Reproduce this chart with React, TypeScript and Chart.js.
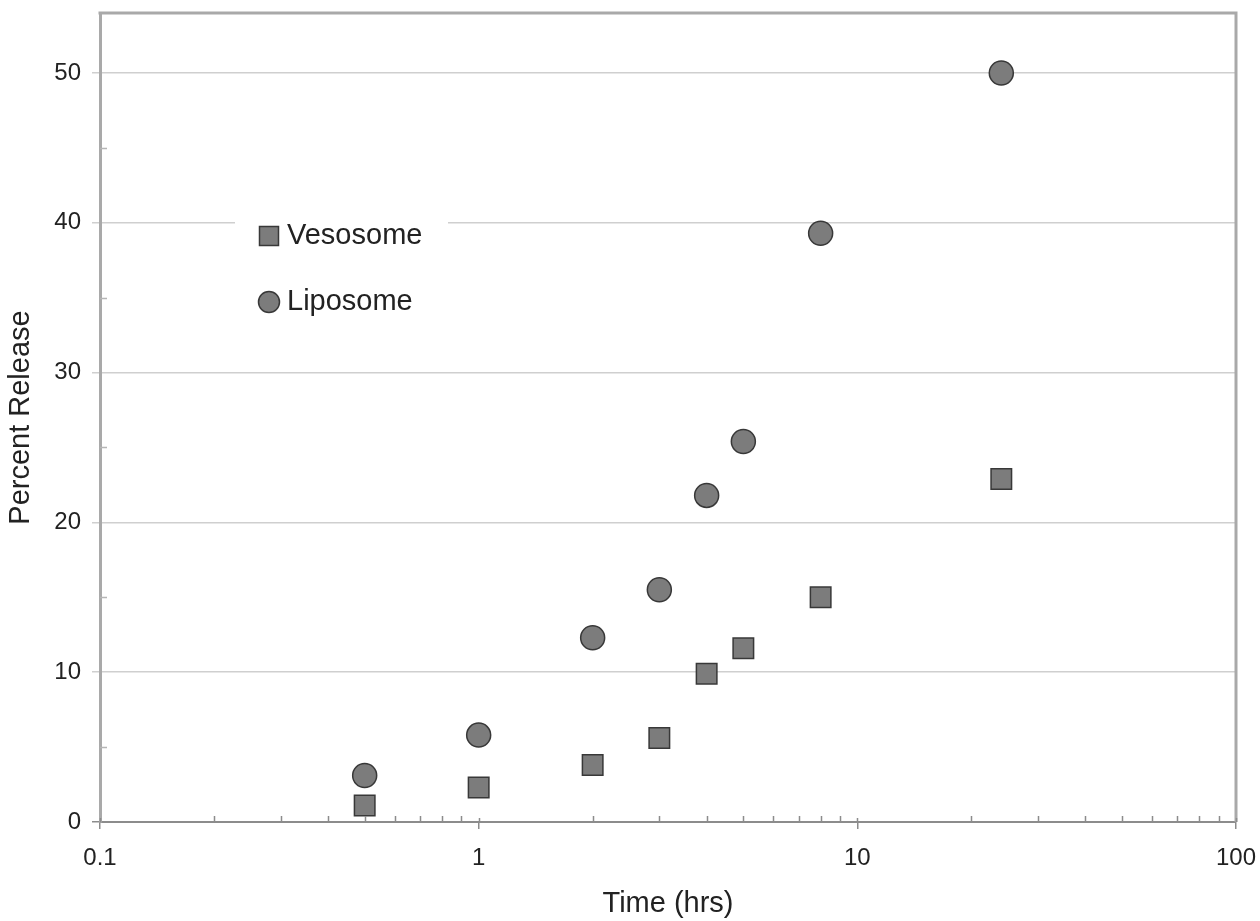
import React, { useEffect, useRef } from "react";
import { Chart, registerables } from "chart.js";

Chart.register(...registerables);

// ---- data ----
const timeHours = [0.5, 1, 2, 3, 4, 5, 8, 24];
const vesosomeRelease = [1.1, 2.3, 3.8, 5.6, 9.9, 11.6, 15.0, 22.9];
const liposomeRelease = [3.1, 5.8, 12.3, 15.5, 21.8, 25.4, 39.3, 50.0];
const seriesNames = ["Vesosome", "Liposome"];
const xMajorTicks = [0.1, 1, 10, 100];
const xMinorMultipliers = [2, 3, 4, 5, 6, 7, 8, 9];
const xDecades = [0.1, 1, 10];
const yMinorTicks = [5, 15, 25, 35, 45];
const xTitle = "Time (hrs)";
const yTitle = "Percent Release";

const FONT = "'Liberation Sans', Arial, Helvetica, sans-serif";
const POINT_FILL = "#7c7c7c";
const POINT_BORDER = "#383838";

const zeroPad = () => ({ left: 0, top: 0, right: 0, bottom: 0 });

const frameAndTicks = {
  id: "frameAndTicks",
  afterDraw(chart: any) {
    const { ctx, chartArea: a, scales } = chart;
    const xs = scales.x;
    const ys = scales.y;
    ctx.save();
    // top & right frame
    ctx.strokeStyle = "#a9a9a9";
    ctx.lineWidth = 3;
    ctx.beginPath();
    ctx.moveTo(a.left - 1.5, a.top);
    ctx.lineTo(a.right, a.top);
    ctx.lineTo(a.right, a.bottom);
    ctx.stroke();
    // x minor ticks (inward)
    ctx.strokeStyle = "#8c8c8c";
    ctx.lineWidth = 1.5;
    ctx.beginPath();
    xDecades.forEach((d) => {
      xMinorMultipliers.forEach((m) => {
        const px = Math.round(xs.getPixelForValue(d * m)) + 0.5;
        ctx.moveTo(px, a.bottom);
        ctx.lineTo(px, a.bottom - 6);
      });
    });
    // x major ticks inward part
    xMajorTicks.forEach((v) => {
      const px = Math.round(xs.getPixelForValue(v)) + 0.5;
      ctx.moveTo(px, a.bottom);
      ctx.lineTo(px, a.bottom - 4);
    });
    ctx.stroke();
    // y minor ticks (inward)
    ctx.strokeStyle = "#b5b5b5";
    ctx.beginPath();
    yMinorTicks.forEach((v) => {
      const py = Math.round(ys.getPixelForValue(v)) + 0.5;
      ctx.moveTo(a.left, py);
      ctx.lineTo(a.left + 7, py);
    });
    ctx.stroke();
    ctx.restore();
  },
};

const insetLegend = {
  id: "insetLegend",
  afterDatasetsDraw(chart: any) {
    const { ctx } = chart;
    ctx.save();
    ctx.fillStyle = "#ffffff";
    ctx.fillRect(235, 198, 213, 134);
    const rows = [236, 302];
    chart.data.datasets.forEach((ds: any, i: number) => {
      const cy = rows[i];
      const cx = 269;
      ctx.fillStyle = ds.backgroundColor;
      ctx.strokeStyle = ds.borderColor;
      ctx.lineWidth = 1.5;
      ctx.beginPath();
      if (ds.pointStyle === "rect") {
        ctx.rect(cx - 9.5, cy - 9.5, 19, 19);
      } else {
        ctx.arc(cx, cy, 10.5, 0, Math.PI * 2);
      }
      ctx.fill();
      ctx.stroke();
      ctx.fillStyle = "#222222";
      ctx.font = `29px ${FONT}`;
      ctx.textBaseline = "middle";
      ctx.textAlign = "left";
      ctx.fillText(ds.label, 287, cy);
    });
    ctx.restore();
  },
};

export default function App() {
  const canvasRef = useRef<HTMLCanvasElement | null>(null);

  useEffect(() => {
    if (!canvasRef.current) return;
    const chart = new Chart(canvasRef.current, {
      type: "scatter",
      data: {
        datasets: [
          {
            label: seriesNames[0],
            data: timeHours.map((t, i) => ({ x: t, y: vesosomeRelease[i] })),
            pointStyle: "rect",
            pointRadius: 14.5,
            backgroundColor: POINT_FILL,
            borderColor: POINT_BORDER,
            borderWidth: 1.5,
            showLine: false,
          },
          {
            label: seriesNames[1],
            data: timeHours.map((t, i) => ({ x: t, y: liposomeRelease[i] })),
            pointStyle: "circle",
            pointRadius: 12,
            backgroundColor: POINT_FILL,
            borderColor: POINT_BORDER,
            borderWidth: 1.5,
            showLine: false,
          },
        ],
      },
      options: {
        animation: false,
        responsive: false,
        events: [],
        layout: { autoPadding: false, padding: { top: 13, right: 24, left: 0, bottom: 0 } },
        plugins: {
          legend: { display: false },
          tooltip: { enabled: false },
          title: { display: false },
        },
        scales: {
          x: {
            type: "logarithmic",
            min: 0.1,
            max: 100,
            afterBuildTicks: (scale: any) => {
              scale.ticks = xMajorTicks.map((v) => ({ value: v }));
            },
            afterFit: (scale: any) => {
              scale.paddingLeft = 0;
              scale.paddingRight = 0;
              scale.paddingTop = 0;
              scale.paddingBottom = 0;
              scale.getPadding = zeroPad;
              scale.height = 99;
            },
            ticks: {
              autoSkip: false,
              maxRotation: 0,
              padding: 15,
              color: "#222222",
              font: { family: FONT, size: 24 },
              callback: (value: any) => {
                const m = xMajorTicks.find(
                  (t) => Math.abs(Math.log10(t) - Math.log10(Number(value))) < 1e-6
                );
                return m !== undefined ? String(m) : "";
              },
            },
            grid: {
              display: true,
              drawOnChartArea: false,
              drawTicks: true,
              tickLength: 7,
              color: "#8c8c8c",
              lineWidth: 1.5,
            },
            border: { display: true, color: "#8c8c8c", width: 2 },
            title: {
              display: true,
              text: xTitle,
              color: "#222222",
              font: { family: FONT, size: 29 },
              padding: { top: 0, bottom: 0 },
            },
          },
          y: {
            type: "linear",
            min: 0,
            max: 54,
            afterFit: (scale: any) => {
              scale.width = 100;
              scale.paddingTop = 0;
              scale.paddingBottom = 0;
              scale.paddingLeft = 0;
              scale.paddingRight = 0;
              scale.getPadding = zeroPad;
            },
            ticks: {
              stepSize: 10,
              includeBounds: false,
              padding: 11,
              color: "#222222",
              font: { family: FONT, size: 24 },
            },
            grid: {
              display: true,
              drawTicks: true,
              tickLength: 8,
              color: (c: any) => (c.tick && c.tick.value === 0 ? "#8c8c8c" : "#cfcfcf"),
              lineWidth: 1.5,
            },
            border: { display: true, color: "#a9a9a9", width: 3 },
            title: {
              display: true,
              text: yTitle,
              color: "#222222",
              font: { family: FONT, size: 29 },
              padding: { top: 4, bottom: 0 },
            },
          },
        },
      },
      plugins: [insetLegend, frameAndTicks],
    } as any);
    return () => chart.destroy();
  }, []);

  return (
    <div style={{ position: "absolute", left: 0, top: 0, width: 1260, height: 921, background: "#fff" }}>
      <canvas ref={canvasRef} width={1260} height={921} style={{ display: "block" }} />
    </div>
  );
}
